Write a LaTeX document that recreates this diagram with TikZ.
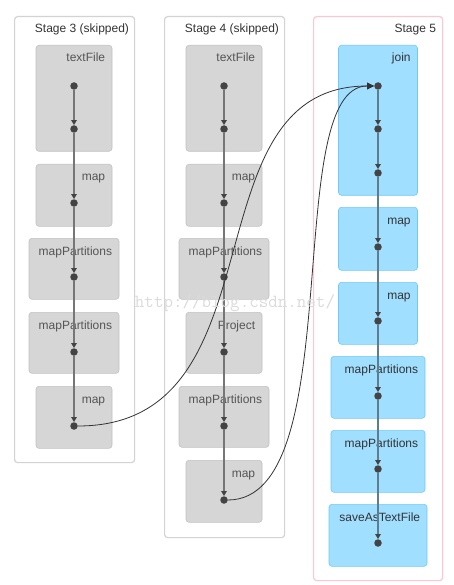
\documentclass[tikz,border=0pt]{standalone}
\usepackage{fontspec}
\setmainfont{Liberation Sans}
\usetikzlibrary{arrows.meta,positioning}
\definecolor{skipedge}{HTML}{D3D3D3}
\definecolor{skipfill}{HTML}{D6D6D6}
\definecolor{skipline}{HTML}{C2C2C2}
\definecolor{liveedge}{HTML}{FFC6D1}
\definecolor{livefill}{HTML}{A0DFFF}
\definecolor{liveline}{HTML}{6FCBF5}
\definecolor{chainclr}{HTML}{767676}
\definecolor{chainblue}{HTML}{5E7E8E}
\definecolor{dotclr}{HTML}{444444}
\definecolor{inkclr}{HTML}{333333}
\definecolor{mutedclr}{HTML}{555555}

\tikzset{
  stagebox/.style={draw=#1, line width=1.2pt, fill=white, rounded corners=3pt,
    anchor=north west, inner sep=0pt},
  skipop/.style={draw=skipline, fill=skipfill, rounded corners=3pt, anchor=north,
    inner sep=0pt, line width=0.6pt},
  liveop/.style={draw=liveline, fill=livefill, rounded corners=3pt, anchor=north,
    inner sep=0pt, line width=0.6pt},
  oplabel/.style={anchor=base east, inner sep=0pt, font=\fontsize{12}{14}\selectfont},
  dot/.style={circle, fill=dotclr, inner sep=0pt, minimum size=7.5pt},
  chain/.style={draw=#1, line width=2pt,
    -{Triangle[length=5pt, width=5.5pt, color=dotclr]}},
  crossedge/.style={draw=inkclr, line width=0.8pt,
    -{Triangle[length=7pt, width=6.5pt, color=inkclr]}},
}

\begin{document}
\begin{tikzpicture}[x=1pt, y=-1pt]
\useasboundingbox (0,0) rectangle (453,585);

% --- the three stage frames ------------------------------------------------
\node[stagebox=skipedge, minimum width=120pt, minimum height=446pt] (stg3) at (14,16) {};
\node[stagebox=skipedge, minimum width=120pt, minimum height=521pt] (stg4) at (164,16) {};
\node[stagebox=liveedge, minimum width=129pt, minimum height=564pt] (stg5) at (313,16) {};
\node[oplabel, text=inkclr] (stg3lbl) at ([shift={(-6pt,-17pt)}]stg3.north east) {Stage 3 (skipped)};
\node[oplabel, text=inkclr] (stg4lbl) at ([shift={(-6pt,-17pt)}]stg4.north east) {Stage 4 (skipped)};
\node[oplabel, text=inkclr] (stg5lbl) at ([shift={(-7pt,-17pt)}]stg5.north east) {Stage 5};

% --- stage 3: operator boxes and their dots --------------------------------
\foreach \i/\y/\w/\h/\t in {1/45/76/106/textFile, 2/164/76/62/map,
    3/238/90/61/mapPartitions, 4/312/90/61/mapPartitions, 5/386/76/62/map} {
  \node[skipop, minimum width=\w pt, minimum height=\h pt] (s3o\i) at (74,\y) {};
  \node[oplabel, text=mutedclr] (s3t\i) at ([shift={(-7pt,-17pt)}]s3o\i.north east) {\t};
}
\foreach \i/\y in {1/86, 2/129, 3/203, 4/277, 5/352, 6/426}
  \node[dot] (s3d\i) at (74,\y) {};
\foreach \a/\b in {1/2, 2/3, 3/4, 4/5, 5/6}
  \draw[chain=chainclr] (s3d\a) -- (s3d\b);

% --- stage 4 ---------------------------------------------------------------
\foreach \i/\y/\w/\h/\t in {1/45/76/106/textFile, 2/164/76/62/map,
    3/238/90/61/mapPartitions, 4/312/76/61/Project, 5/386/90/61/mapPartitions,
    6/460/76/62/map} {
  \node[skipop, minimum width=\w pt, minimum height=\h pt] (s4o\i) at (224,\y) {};
  \node[oplabel, text=mutedclr] (s4t\i) at ([shift={(-7pt,-17pt)}]s4o\i.north east) {\t};
}
\foreach \i/\y in {1/86, 2/129, 3/203, 4/277, 5/352, 6/426, 7/500}
  \node[dot] (s4d\i) at (224,\y) {};
\foreach \a/\b in {1/2, 2/3, 3/4, 4/5, 5/6, 6/7}
  \draw[chain=chainclr] (s4d\a) -- (s4d\b);

% --- stage 5 (the one that actually runs) ----------------------------------
\foreach \i/\y/\w/\h/\t in {1/45/79/150/join, 2/207/79/63/map, 3/282/79/62/map,
    4/356/94/62/mapPartitions, 5/430/94/62/mapPartitions, 6/504/98/62/saveAsTextFile} {
  \node[liveop, minimum width=\w pt, minimum height=\h pt] (s5o\i) at (378,\y) {};
  \node[oplabel, text=inkclr] (s5t\i) at ([shift={(-7pt,-17pt)}]s5o\i.north east) {\t};
}
\foreach \i/\y in {1/86, 2/129, 3/173, 4/247, 5/321, 6/396, 7/469, 8/543}
  \node[dot] (s5d\i) at (378,\y) {};
\foreach \a/\b in {1/2, 2/3, 3/4, 4/5, 5/6, 6/7, 7/8}
  \draw[chain=chainblue] (s5d\a) -- (s5d\b);

% --- shuffle edges into the join -------------------------------------------
\draw[crossedge] (s3d6) .. controls (285,426) and (185,86) .. (s5d1);
\draw[crossedge] (s4d7) .. controls (350,500) and (280,86) .. (s5d1);

% --- watermark ---------------------------------------------------------------
\node[text=black!14, font=\fontsize{18.5}{20}\ttfamily, inner sep=0pt] (wmark)
  at (235,303) {http://blog.csdn.net/};

\end{tikzpicture}
\end{document}
